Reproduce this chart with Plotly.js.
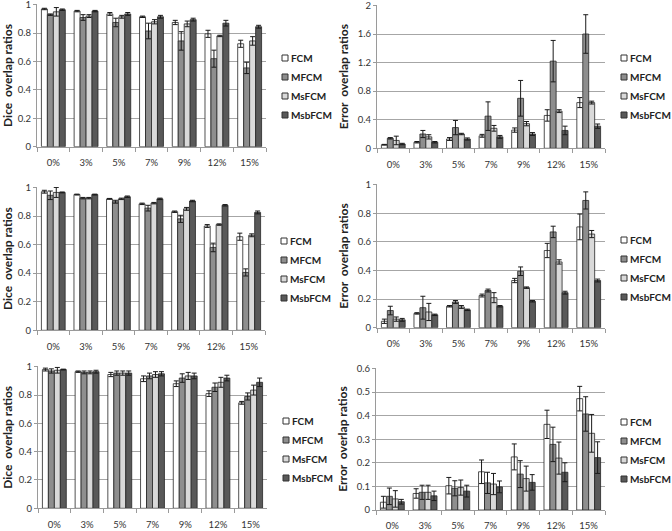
<!DOCTYPE html>
<html><head><meta charset="utf-8">
<script src="https://cdn.plot.ly/plotly-3.0.1.min.js"></script>
<style>html,body{margin:0;padding:0;background:#fff}#chart{width:672px;height:531px}</style>
</head><body><div id="chart"></div>
<script>
const categories = ['0%','3%','5%','7%','9%','12%','15%'];
const seriesNames = ['FCM','MFCM','MsFCM','MsbFCM'];
const seriesColors = ['#ffffff','#8e8e8e','#d9d9d9','#595959'];

// Row 1 — Dice (order: FCM, MFCM, MsFCM, MsbFCM)
const dice1Values = [
  [0.97,0.955,0.935,0.915,0.875,0.795,0.725],
  [0.93,0.91,0.875,0.815,0.745,0.62,0.555],
  [0.95,0.92,0.915,0.88,0.865,0.78,0.745],
  [0.965,0.955,0.935,0.915,0.895,0.87,0.845]
];
const dice1Errors = [
  [0.005,0.005,0.01,0.005,0.015,0.025,0.025],
  [0.005,0.02,0.03,0.055,0.065,0.06,0.04],
  [0.03,0.01,0.01,0.015,0.02,0.005,0.03],
  [0.005,0.005,0.01,0.01,0.01,0.02,0.01]
];
// Row 1 — Error
const error1Values = [
  [0.05,0.085,0.13,0.175,0.255,0.46,0.64],
  [0.14,0.2,0.29,0.45,0.7,1.22,1.6],
  [0.11,0.16,0.2,0.28,0.345,0.52,0.64],
  [0.06,0.085,0.13,0.16,0.2,0.25,0.31]
];
const error1Errors = [
  [0.005,0.01,0.02,0.02,0.03,0.08,0.07],
  [0.01,0.05,0.1,0.2,0.25,0.29,0.27],
  [0.06,0.03,0.01,0.04,0.03,0.02,0.02],
  [0.01,0.01,0.015,0.02,0.02,0.06,0.03]
];
// Row 2 — Dice
const dice2Values = [
  [0.97,0.95,0.92,0.885,0.83,0.73,0.655],
  [0.945,0.925,0.9,0.855,0.78,0.58,0.405],
  [0.965,0.925,0.92,0.89,0.85,0.74,0.665],
  [0.965,0.95,0.935,0.92,0.905,0.875,0.825]
];
const dice2Errors = [
  [0.01,0.003,0.003,0.005,0.005,0.01,0.025],
  [0.03,0.005,0.01,0.02,0.025,0.03,0.025],
  [0.035,0.005,0.005,0.005,0.01,0.005,0.01],
  [0.003,0.003,0.005,0.005,0.005,0.005,0.01]
];
// Row 2 — Error
const error2Values = [
  [0.045,0.1,0.15,0.225,0.33,0.54,0.705],
  [0.12,0.14,0.18,0.26,0.395,0.67,0.89],
  [0.06,0.11,0.145,0.21,0.28,0.46,0.655],
  [0.055,0.09,0.125,0.15,0.185,0.245,0.33]
];
const error2Errors = [
  [0.015,0.005,0.005,0.01,0.015,0.05,0.09],
  [0.03,0.08,0.01,0.01,0.03,0.04,0.06],
  [0.015,0.06,0.01,0.035,0.005,0.015,0.025],
  [0.01,0.005,0.005,0.005,0.005,0.01,0.01]
];
// Row 3 — Dice
const dice3Values = [
  [0.98,0.965,0.945,0.915,0.88,0.81,0.745],
  [0.97,0.96,0.955,0.935,0.92,0.855,0.79],
  [0.975,0.96,0.955,0.945,0.935,0.89,0.835],
  [0.98,0.965,0.955,0.95,0.935,0.92,0.89]
];
const dice3Errors = [
  [0.01,0.005,0.015,0.02,0.02,0.02,0.01],
  [0.015,0.01,0.015,0.02,0.03,0.03,0.025],
  [0.02,0.01,0.015,0.02,0.025,0.035,0.035],
  [0.003,0.01,0.015,0.015,0.02,0.02,0.03]
];
// Row 3 — Error
const error3Values = [
  [0.033,0.07,0.103,0.162,0.225,0.363,0.472],
  [0.058,0.075,0.092,0.115,0.152,0.278,0.407],
  [0.047,0.075,0.095,0.11,0.133,0.22,0.325],
  [0.035,0.06,0.08,0.098,0.117,0.16,0.222]
];
const error3Errors = [
  [0.025,0.02,0.035,0.05,0.055,0.06,0.052],
  [0.035,0.03,0.032,0.045,0.057,0.073,0.073],
  [0.035,0.03,0.032,0.045,0.053,0.068,0.08],
  [0.01,0.02,0.025,0.025,0.033,0.04,0.067]
];

// y tick labels per axis kind
const diceTicks = ['0','0.2','0.4','0.6','0.8','1'];
const error1Ticks = ['0','0.4','0.8','1.2','1.6','2'];
const error2Ticks = ['0','0.2','0.4','0.6','0.8','1'];
const error3Ticks = ['0','0.1','0.2','0.3','0.4','0.5','0.6'];

const W = 672, H = 531;
const FONT = 'Lato, "Open Sans", sans-serif';
const panels = [
  {vals: dice1Values,  errs: dice1Errors,  title: 'Dice\u00a0 overlap ratios',  ticks: diceTicks,   px:[37,266],  py:[4.3,146.7], legY:58},
  {vals: error1Values, errs: error1Errors, title: 'Error\u00a0 overlap ratios', ticks: error1Ticks, px:[377,605], py:[5,148.3],   legY:58},
  {vals: dice2Values,  errs: dice2Errors,  title: 'Dice\u00a0 overlap ratios',  ticks: diceTicks,   px:[37,265],  py:[187,330.3], legY:241},
  {vals: error2Values, errs: error2Errors, title: 'Error\u00a0 overlap ratios', ticks: error2Ticks, px:[377,605], py:[184.3,327.7], legY:240},
  {vals: dice3Values,  errs: dice3Errors,  title: 'Dice\u00a0 overlap ratios',  ticks: diceTicks,   px:[38,267],  py:[366.3,508.3], legY:421},
  {vals: error3Values, errs: error3Errors, title: 'Error\u00a0 overlap ratios', ticks: error3Ticks, px:[376,605], py:[368,510],   legY:422}
];

const traces = [];
const layout = {
  width: W, height: H,
  margin: {l:0, r:0, t:0, b:0},
  paper_bgcolor: '#fff', plot_bgcolor: '#fff',
  barmode: 'group', bargap: 0.27, bargroupgap: 0,
  showlegend: false,
  font: {family: FONT, color: '#222'},
  shapes: [], annotations: []
};

panels.forEach((p, i) => {
  const n = i + 1;
  const xa = n === 1 ? 'x' : 'x' + n;
  const ya = n === 1 ? 'y' : 'y' + n;
  seriesNames.forEach((name, s) => {
    traces.push({
      type: 'bar', name: name, x: categories, y: p.vals[s],
      xaxis: xa, yaxis: ya,
      marker: {color: seriesColors[s], line: {color: '#262626', width: 0.8}},
      error_y: {type: 'data', array: p.errs[s], visible: true, color: '#1a1a1a', thickness: 1, width: 2.5},
      hoverinfo: 'y'
    });
  });
  const tickvals = p.ticks.map(Number);
  const top = tickvals[tickvals.length - 1];
  const xKey = n === 1 ? 'xaxis' : 'xaxis' + n;
  const yKey = n === 1 ? 'yaxis' : 'yaxis' + n;
  layout[xKey] = {
    domain: [p.px[0] / W, p.px[1] / W],
    anchor: ya, type: 'category',
    showline: true, linecolor: '#9a9a9a', linewidth: 1,
    ticks: 'outside', tickson: 'boundaries', ticklen: 4, tickcolor: '#9a9a9a',
    ticklabelstandoff: 7,
    tickfont: {size: 9.5, color: '#333', family: FONT},
    showgrid: false, zeroline: false, fixedrange: true
  };
  layout[yKey] = {
    domain: [1 - p.py[1] / H, 1 - p.py[0] / H],
    anchor: xa, range: [0, top * 1.003],
    tickmode: 'array', tickvals: tickvals, ticktext: p.ticks,
    ticklabeloverflow: 'allow',
    showline: true, linecolor: '#9a9a9a', linewidth: 1,
    ticks: 'outside', ticklen: 3, tickcolor: '#9a9a9a',
    showgrid: true, gridcolor: '#a6a6a6', gridwidth: 1,
    zeroline: false,
    tickfont: {size: 9.5, color: '#333', family: FONT},
    title: {text: '<b>' + p.title + '</b>', font: {size: 12, family: FONT, color: '#222'}, standoff: 6},
    fixedrange: true
  };
  // legend
  const sqX = p.px[1] + 19;
  seriesNames.forEach((name, s) => {
    const yc = p.legY + s * 19;
    layout.shapes.push({
      type: 'rect', xref: 'paper', yref: 'paper',
      x0: (sqX - 3) / W, x1: (sqX + 3) / W,
      y0: 1 - (yc + 3) / H, y1: 1 - (yc - 3) / H,
      fillcolor: seriesColors[s], line: {color: '#333', width: 1}
    });
    layout.annotations.push({
      xref: 'paper', yref: 'paper', x: (sqX + 4) / W, y: 1 - yc / H,
      xanchor: 'left', yanchor: 'middle', showarrow: false,
      text: '<b>' + name + '</b>', font: {size: 10, family: FONT, color: '#222'}
    });
  });
});

Plotly.newPlot('chart', traces, layout, {displayModeBar: false, staticPlot: true});
</script></body></html>
